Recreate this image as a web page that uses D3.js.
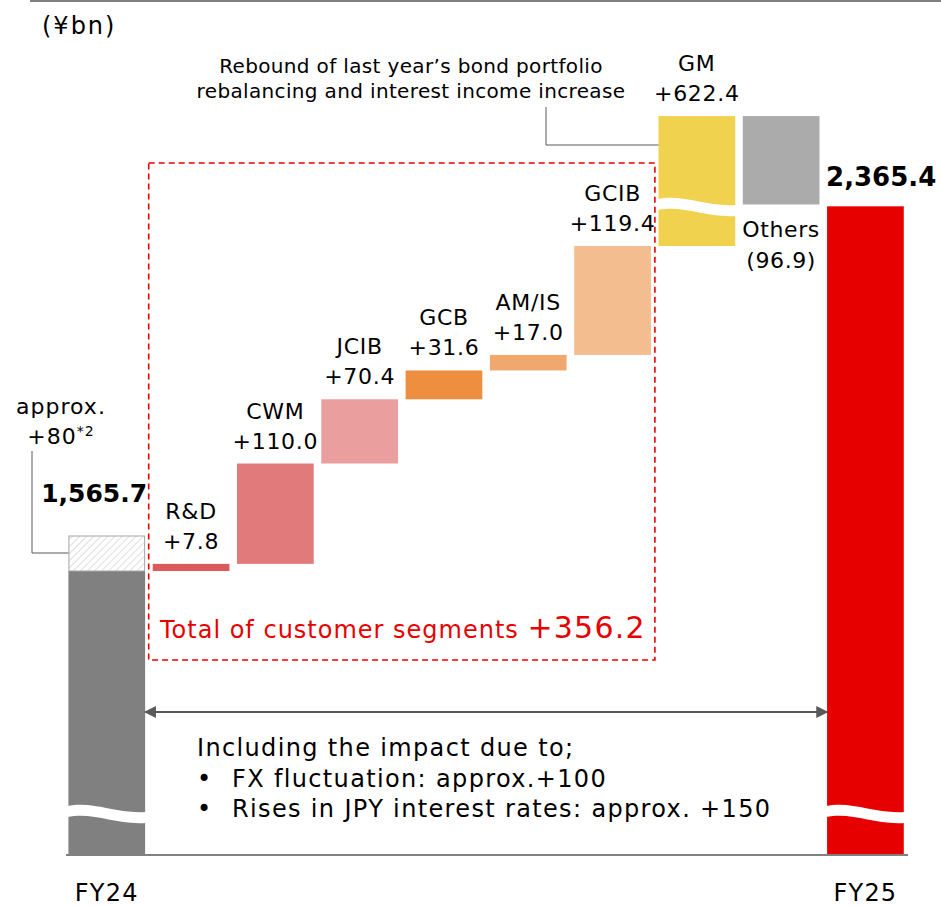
<!DOCTYPE html>
<html>
<head>
<meta charset="utf-8">
<script src="https://cdn.jsdelivr.net/npm/d3@7"></script>
<style>
  body { margin: 0; background: #fff; }
  svg { display: block; font-family: "DejaVu Sans", Verdana, sans-serif; }
</style>
</head>
<body>
<svg width="941" height="906"></svg>
<script>
// data
var fy24Value = 1565.7;
var fy25Value = 2365.4;
var restateAdj = 80;           // "approx. +80*2" hatched part
var steps = ['R&D', 'CWM', 'JCIB', 'GCB', 'AM/IS', 'GCIB', 'GM', 'Others'];
var deltas = [7.8, 110.0, 70.4, 31.6, 17.0, 119.4, 622.4, -96.9];
var stepColors = ['#dc5a5a', '#e17b7b', '#eb9e9e', '#ed8f3f', '#f1a86e', '#f4bd8f', '#f1d24e', '#ababab'];
var customerTotal = 356.2;
var bullets = ['FX fluctuation: approx.+100', 'Rises in JPY interest rates: approx. +150'];

var svg = d3.select('svg');
var fmt = d3.format(',.1f');
var signed = v => (v >= 0 ? '+' : '') + fmt(v);

var cats = ['FY24'].concat(steps, ['FY25']);
var x = d3.scaleBand().domain(cats).range([64.2, 908]).paddingInner(0.09).paddingOuter(0.05);

// waterfall starts from FY24 less the hatched restatement
var base = fy24Value - restateAdj;
var cum = base;
var rows = steps.map((s, i) => {
    var r = {name: s, v0: cum, v1: cum + deltas[i], d: deltas[i], color: stepColors[i]};
    cum += deltas[i];
    return r;
});

// upper axis break (GM is too tall) -> values above it are shifted down by the gap
var hiBreak = 1860, hiGap = 480;
var disp = v => v > hiBreak ? v - hiGap : v;
var y0 = d3.scaleLinear().domain([base, rows[5].v1]).range([571, 246]);
var y = v => y0(disp(v));
var axisY = 855;

// top rule and unit
svg.append('line').attr('x1', 30).attr('x2', 941).attr('y1', 1).attr('y2', 1)
    .attr('stroke', '#7f7f7f').attr('stroke-width', 2);
svg.append('text').attr('x', 42).attr('y', 34).attr('font-size', 24).attr('letter-spacing', 2)
    .text('(¥bn)');

// hatch pattern
var pat = svg.append('defs').append('pattern').attr('id', 'hatch')
    .attr('patternUnits', 'userSpaceOnUse').attr('width', 5).attr('height', 5)
    .attr('patternTransform', 'rotate(45)');
pat.append('rect').attr('width', 5).attr('height', 5).attr('fill', '#fff');
pat.append('line').attr('x1', 0).attr('x2', 0).attr('y1', 0).attr('y2', 5)
    .attr('stroke', '#c9c9c9').attr('stroke-width', 1.2);

// red dashed box around customer segments
svg.append('rect').attr('x', x('R&D') - 4).attr('y', 163)
    .attr('width', x('GCIB') + x.bandwidth() + 4 - (x('R&D') - 4)).attr('height', 497)
    .attr('fill', 'none').attr('stroke', '#e60000').attr('stroke-width', 1.6)
    .attr('stroke-dasharray', '6,4');

// FY24 bar
var bw = x.bandwidth();
var hatchTop = y(base) - 35;
svg.append('rect').attr('x', x('FY24')).attr('y', y(base)).attr('width', bw)
    .attr('height', axisY - y(base)).attr('fill', '#808080');
svg.append('rect').attr('x', x('FY24') + 0.5).attr('y', hatchTop).attr('width', bw - 1)
    .attr('height', y(base) - hatchTop).attr('fill', 'url(#hatch)')
    .attr('stroke', '#a6a6a6').attr('stroke-width', 1);

// FY25 bar
svg.append('rect').attr('x', x('FY25')).attr('y', y(fy25Value)).attr('width', bw)
    .attr('height', axisY - y(fy25Value)).attr('fill', '#e60000');

// step bars
svg.selectAll('rect.step').data(rows).enter().append('rect')
    .attr('class', 'step')
    .attr('x', d => x(d.name))
    .attr('y', d => Math.min(y(d.v0), y(d.v1)))
    .attr('width', bw)
    .attr('height', d => Math.max(4, Math.abs(y(d.v1) - y(d.v0))))
    .attr('fill', d => d.color);

// wavy break marks
function wave(x0, w, yc) {
    return 'M' + (x0 - 1) + ',' + (yc - 7) +
        'C' + (x0 + w * 0.35) + ',' + (yc - 12) + ' ' + (x0 + w * 0.6) + ',' + (yc + 1) + ' ' + (x0 + w + 1) + ',' + (yc - 1) +
        'L' + (x0 + w + 1) + ',' + (yc + 10) +
        'C' + (x0 + w * 0.6) + ',' + (yc + 12) + ' ' + (x0 + w * 0.35) + ',' + (yc - 1) + ' ' + (x0 - 1) + ',' + (yc + 4) + 'Z';
}
[['FY24', 813], ['FY25', 813], ['GM', 206]].forEach(b => {
    svg.append('path').attr('d', wave(x(b[0]), bw, b[1])).attr('fill', '#fff');
});

// baseline
svg.append('line').attr('x1', 66).attr('x2', 908).attr('y1', axisY).attr('y2', axisY)
    .attr('stroke', '#808080').attr('stroke-width', 2);

// category labels
svg.selectAll('text.cat').data(['FY24', 'FY25']).enter().append('text')
    .attr('x', d => x(d) + bw / 2).attr('y', 901).attr('text-anchor', 'middle')
    .attr('font-size', 24).attr('letter-spacing', 1.2).text(d => d);

// step labels
var labelled = rows.filter(d => d.d > 0);
var lab = svg.selectAll('g.lab').data(labelled).enter().append('g')
    .attr('font-size', 22).attr('letter-spacing', 0.7).attr('text-anchor', 'middle')
    .attr('transform', d => 'translate(' + (x(d.name) + bw / 2) + ',' + Math.min(y(d.v0), y(d.v1)) + ')');
lab.append('text').attr('y', -45).text(d => d.name);
lab.append('text').attr('y', -15).text(d => signed(d.d));

// others label (below)
var oth = rows[7];
var othG = svg.append('g').attr('font-size', 22).attr('letter-spacing', 0.6).attr('text-anchor', 'middle')
    .attr('transform', 'translate(' + (x('Others') + bw / 2) + ',' + y(oth.v1) + ')');
othG.append('text').attr('y', 33).text(oth.name);
othG.append('text').attr('y', 64).text('(' + fmt(-oth.d) + ')');

// totals
svg.append('text').attr('x', x('FY24') + bw + 2).attr('y', 502).attr('text-anchor', 'end')
    .attr('font-size', 25).attr('font-weight', 'bold').text(fmt(fy24Value));
svg.append('text').attr('x', x('FY25') - 1).attr('y', 186)
    .attr('font-size', 26).attr('font-weight', 'bold').text(fmt(fy25Value));

// approx +80 note with leader
var note = svg.append('g').attr('font-size', 22).attr('letter-spacing', 1).attr('text-anchor', 'middle');
note.append('text').attr('x', 61).attr('y', 414).text('approx.');
var plus = note.append('text').attr('x', 61).attr('y', 444);
plus.append('tspan').text('+' + restateAdj);
plus.append('tspan').attr('font-size', 14).attr('dy', -8).text('*2');
svg.append('path').attr('d', 'M32,451V553H' + x('FY24'))
    .attr('fill', 'none').attr('stroke', '#595959').attr('stroke-width', 1);

// GM note with leader
var gmNote = svg.append('g').attr('font-size', 20).attr('letter-spacing', 0.35).attr('text-anchor', 'middle');
gmNote.append('text').attr('x', 411).attr('y', 73).text('Rebound of last year\u2019s bond portfolio');
gmNote.append('text').attr('x', 411).attr('y', 98).text('rebalancing and interest income increase');
svg.append('path').attr('d', 'M546,107V145H' + x('GM'))
    .attr('fill', 'none').attr('stroke', '#595959').attr('stroke-width', 1);

// total of customer segments
var tot = svg.append('text').attr('x', 160).attr('y', 638).attr('fill', '#e60000');
tot.append('tspan').attr('font-size', 24).attr('letter-spacing', 1).text('Total of customer segments ');
tot.append('tspan').attr('font-size', 30).attr('letter-spacing', 1.2).text(signed(customerTotal));

// double arrow
var defs = svg.select('defs');
['s', 'e'].forEach(k => {
    defs.append('marker').attr('id', 'arr' + k).attr('viewBox', '0 0 10 10')
        .attr('refX', 9).attr('refY', 5).attr('markerWidth', 6).attr('markerHeight', 6)
        .attr('orient', k === 's' ? 'auto-start-reverse' : 'auto')
        .append('path').attr('d', 'M0,0L10,5L0,10Z').attr('fill', '#595959');
});
svg.append('line').attr('x1', x('FY24') + bw).attr('x2', x('FY25')).attr('y1', 712).attr('y2', 712)
    .attr('stroke', '#595959').attr('stroke-width', 2)
    .attr('marker-start', 'url(#arrs)').attr('marker-end', 'url(#arre)');

// impact note
var imp = svg.append('g').attr('font-size', 24).attr('letter-spacing', 1.35);
imp.append('text').attr('x', 197).attr('y', 756).text('Including the impact due to;');
bullets.forEach((b, i) => {
    imp.append('text').attr('x', 197).attr('y', 787 + i * 30).text('\u2022');
    imp.append('text').attr('x', 232).attr('y', 787 + i * 30).text(b);
});
</script>
</body>
</html>
